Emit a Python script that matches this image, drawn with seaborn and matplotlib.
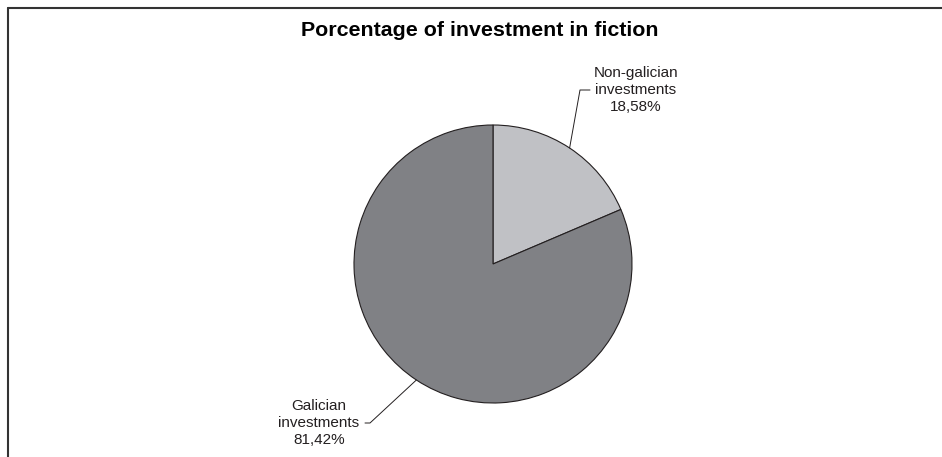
import numpy as np
import matplotlib
matplotlib.use("Agg")
import matplotlib.pyplot as plt
from matplotlib.lines import Line2D
import seaborn as sns

# Data
categories = ["Non-galician\ninvestments", "Galician\ninvestments"]
values = [18.58, 81.42]
slice_colors = ["#c0c1c5", "#808185"]

sns.set_style("white")
plt.rcParams["font.family"] = ["Liberation Sans", "DejaVu Sans"]

W, H = 942, 457
fig = plt.figure(figsize=(W / 100, H / 100), dpi=100)

# pie centre (493, 264) px, radius 139 px
cx, cy, r = 493, 264, 139
ax = fig.add_axes([(cx - r) / W, (H - cy - r) / H, 2 * r / W, 2 * r / H])

wedges, _ = ax.pie(values, colors=slice_colors, startangle=90, counterclock=False,
                   wedgeprops=dict(edgecolor="#231f20", linewidth=0.8))
ax.set_xlim(-1, 1)
ax.set_ylim(-1, 1)
ax.set_aspect("equal")

def px(x, y):
    return (x - cx) / r, (cy - y) / r

# label positions (text centre, elbow, end of horizontal tick) in pixels
label_spots = [((636, 90), (580, 90), (590, 90)),
               ((319, 423), (370, 423), (365, 423))]

for w, cat, val, (tpos, elbow, tick) in zip(wedges, categories, values, label_spots):
    ang = np.deg2rad((w.theta1 + w.theta2) / 2)
    ex, ey = np.cos(ang), np.sin(ang)
    bx, by = px(*elbow)
    kx, ky = px(*tick)
    ax.add_line(Line2D([ex, bx, kx], [ey, by, ky], color="#231f20", lw=0.7, clip_on=False))
    tx, ty = px(*tpos)
    txt = cat + "\n" + f"{val:.2f}".replace(".", ",") + "%"
    ax.text(tx, ty, txt, ha="center", va="center", fontsize=11, color="#231f20",
            linespacing=1.3, clip_on=False)

fig.text(479.5 / W, 1 - 31 / H, "Porcentage of investment in fiction",
         ha="center", va="center", fontsize=15.4, fontweight="bold", color="#000000")

# frame (top and left only visible)
fig.add_artist(Line2D([7.5 / W, 1], [1 - 7.5 / H] * 2, color="#333333", lw=1.5,
                      transform=fig.transFigure))
fig.add_artist(Line2D([7.5 / W] * 2, [0, 1 - 7.5 / H], color="#333333", lw=1.5,
                      transform=fig.transFigure))

fig.savefig("out.png", dpi=100)
